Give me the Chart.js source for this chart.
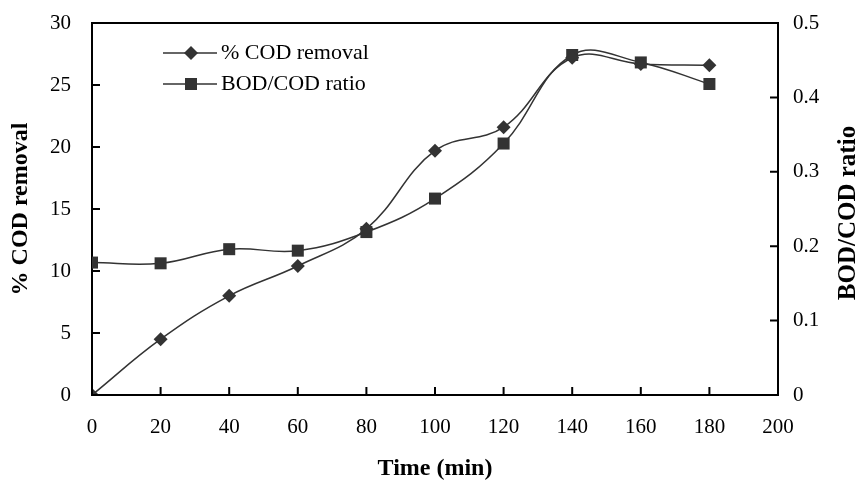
<!DOCTYPE html>
<html>
<head>
<meta charset="utf-8">
<script src="https://cdn.jsdelivr.net/npm/chart.js@4"></script>
<style>
  html, body { margin: 0; padding: 0; background: #fff; }
  #wrap { width: 859px; height: 483px; }
</style>
</head>
<body>
<div id="wrap"><canvas id="codChart" width="859" height="483"></canvas></div>
<script>
// values
const timeMin = [0, 20, 40, 60, 80, 100, 120, 140, 160, 180];
const codRemoval = [0, 4.5, 8.0, 10.4, 13.4, 19.7, 21.6, 27.2, 26.7, 26.6];
const bodCodRatio = [0.178, 0.177, 0.196, 0.194, 0.219, 0.264, 0.338, 0.457, 0.447, 0.418];

const xTicks = [0, 20, 40, 60, 80, 100, 120, 140, 160, 180, 200];
const leftTicks = [0, 5, 10, 15, 20, 25, 30];
const rightTicks = [0, 0.1, 0.2, 0.3, 0.4, 0.5];

const seriesLabels = ['% COD removal', 'BOD/COD ratio'];
const axisTitles = { x: 'Time (min)', left: '% COD removal', right: 'BOD/COD ratio' };

const SERIF = '"Liberation Serif", "Times New Roman", serif';
const INK = '#333';

// inward tick marks, top frame line, right title and legend
const framePlugin = {
    id: 'frame',
    afterDraw(chart) {
        const ctx = chart.ctx;
        const area = chart.chartArea;
        const sx = chart.scales.x, sl = chart.scales.y, sr = chart.scales.y2;
        ctx.save();
        ctx.strokeStyle = '#000';
        ctx.lineWidth = 2;
        ctx.beginPath();
        ctx.moveTo(area.left, area.top);
        ctx.lineTo(area.right, area.top);
        xTicks.forEach(v => {
            const px = sx.getPixelForValue(v);
            ctx.moveTo(px, area.bottom);
            ctx.lineTo(px, area.bottom - 8);
        });
        leftTicks.forEach(v => {
            const py = sl.getPixelForValue(v);
            ctx.moveTo(area.left, py);
            ctx.lineTo(area.left + 8, py);
        });
        rightTicks.forEach(v => {
            const py = sr.getPixelForValue(v);
            ctx.moveTo(area.right, py);
            ctx.lineTo(area.right - 8, py);
        });
        ctx.stroke();

        // right axis title, reading bottom to top like the left one
        ctx.fillStyle = '#000';
        ctx.font = 'bold 25px ' + SERIF;
        ctx.textAlign = 'center';
        ctx.textBaseline = 'middle';
        ctx.translate(849, 213);
        ctx.rotate(-Math.PI / 2);
        ctx.fillText(axisTitles.right, 0, 0);
        ctx.restore();

        // legend
        ctx.save();
        const rows = [53, 84];
        chart.data.datasets.forEach((ds, i) => {
            const y = rows[i];
            ctx.strokeStyle = INK;
            ctx.lineWidth = 1.5;
            ctx.beginPath();
            ctx.moveTo(163, y);
            ctx.lineTo(217, y);
            ctx.stroke();
            ctx.fillStyle = INK;
            ctx.beginPath();
            if (ds.pointStyle === 'rectRot') {
                ctx.moveTo(191, y - 7);
                ctx.lineTo(198, y);
                ctx.lineTo(191, y + 7);
                ctx.lineTo(184, y);
                ctx.closePath();
            } else {
                ctx.rect(185, y - 6, 12, 12);
            }
            ctx.fill();
            ctx.fillStyle = '#000';
            ctx.font = '22px ' + SERIF;
            ctx.textAlign = 'left';
            ctx.textBaseline = 'middle';
            ctx.fillText(ds.label, 221, y);
        });
        ctx.restore();
    }
};

// fixed axis sizes so the plot box sits where it does in the figure
function fitVertical(width) {
    return s => {
        s.width = width;
        s.paddingTop = 0;
        s.paddingBottom = 0;
    };
}

new Chart(document.getElementById('codChart'), {
    type: 'line',
    data: {
        datasets: [
            {
                label: seriesLabels[0],
                data: timeMin.map((t, i) => ({ x: t, y: codRemoval[i] })),
                yAxisID: 'y',
                borderColor: INK,
                backgroundColor: INK,
                borderWidth: 1.5,
                pointStyle: 'rectRot',
                pointRadius: 7,
                pointBorderWidth: 0,
                tension: 0.4
            },
            {
                label: seriesLabels[1],
                data: timeMin.map((t, i) => ({ x: t, y: bodCodRatio[i] })),
                yAxisID: 'y2',
                borderColor: INK,
                backgroundColor: INK,
                borderWidth: 1.5,
                pointStyle: 'rect',
                pointRadius: 8.5,
                pointBorderWidth: 0,
                tension: 0.4
            }
        ]
    },
    options: {
        responsive: false,
        animation: false,
        layout: { padding: { top: 23, left: 0, right: 0, bottom: 0 } },
        plugins: {
            legend: { display: false },
            tooltip: { enabled: false }
        },
        scales: {
            x: {
                type: 'linear',
                min: 0,
                max: 200,
                afterFit: s => { s.height = 88; },
                afterBuildTicks: s => { s.ticks = xTicks.map(v => ({ value: v })); },
                grid: { display: false, drawTicks: false },
                border: { display: true, color: '#000', width: 2 },
                ticks: { color: '#000', padding: 20, font: { family: SERIF, size: 21 } },
                title: {
                    display: true,
                    text: axisTitles.x,
                    color: '#000',
                    font: { family: SERIF, size: 24, weight: 'bold' },
                    padding: { top: 0, bottom: 0 }
                }
            },
            y: {
                type: 'linear',
                position: 'left',
                min: 0,
                max: 30,
                afterFit: fitVertical(92),
                afterBuildTicks: s => { s.ticks = leftTicks.map(v => ({ value: v })); },
                grid: { display: false, drawTicks: false },
                border: { display: true, color: '#000', width: 2 },
                ticks: { color: '#000', padding: 21, font: { family: SERIF, size: 21 } },
                title: {
                    display: true,
                    text: axisTitles.left,
                    color: '#000',
                    font: { family: SERIF, size: 24, weight: 'bold' },
                    padding: { top: 6, bottom: 0 }
                }
            },
            y2: {
                type: 'linear',
                position: 'right',
                min: 0,
                max: 0.5,
                afterFit: fitVertical(81),
                afterBuildTicks: s => { s.ticks = rightTicks.map(v => ({ value: v })); },
                grid: { display: false, drawTicks: false },
                border: { display: true, color: '#000', width: 2 },
                ticks: {
                    color: '#000',
                    padding: 15,
                    font: { family: SERIF, size: 21 },
                    callback: v => String(Math.round(v * 10) / 10)
                }
            }
        }
    },
    plugins: [framePlugin]
});
</script>
</body>
</html>
